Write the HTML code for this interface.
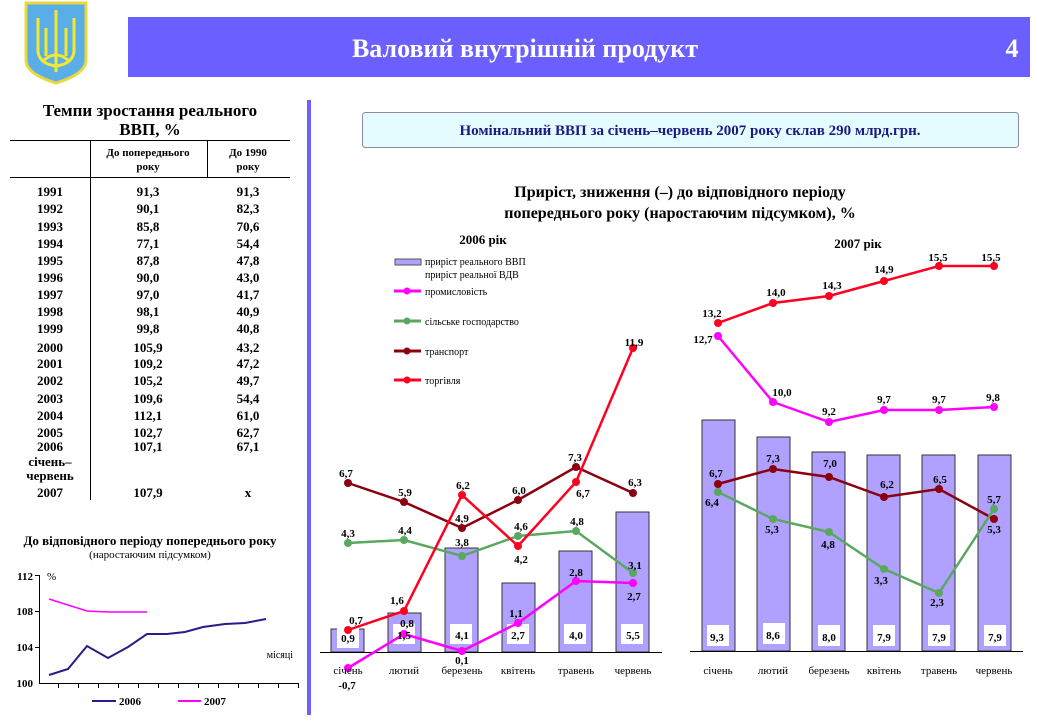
<!DOCTYPE html>
<html><head><meta charset="utf-8"><style>
body{margin:0;background:#fff;}
svg text{font-family:"Liberation Serif",serif;}
</style></head><body>
<svg width="1037" height="720" viewBox="0 0 1037 720" xmlns="http://www.w3.org/2000/svg">
<!-- logo -->
<path d="M26,3 L86,3 L86,60 Q86,74 56,83 Q26,74 26,60 Z" fill="#5aaee8" stroke="#e8d840" stroke-width="3"/>
<g stroke="#f2e830" stroke-width="3" fill="none">
<path d="M56,10 L56,72"/><path d="M38,18 L38,52 Q40,64 56,66 Q72,64 74,52 L74,18"/>
<path d="M46,28 L46,56"/><path d="M66,28 L66,56"/><path d="M44,60 Q56,50 68,60"/>
</g>
<!-- header -->
<rect x="128" y="17" width="902" height="60" fill="#6b60ff"/>
<text x="525" y="57" font-size="26" font-weight="bold" fill="#fff" text-anchor="middle">Валовий внутрішній продукт</text>
<text x="1012" y="57" font-size="26" font-weight="bold" fill="#fff" text-anchor="middle">4</text>
<rect x="307" y="100" width="4" height="615" fill="#6b60ff"/>
<!-- table -->
<g font-weight="bold" text-anchor="middle" fill="#000">
<text x="150" y="116" font-size="17">Темпи зростання реального</text>
<text x="150" y="135" font-size="17">ВВП, %</text>
<text x="148" y="156" font-size="11">До попереднього</text><text x="148" y="170" font-size="11">року</text>
<text x="248" y="156" font-size="11">До 1990</text><text x="248" y="170" font-size="11">року</text>
</g>
<g stroke="#000" stroke-width="1"><line x1="10" y1="140.5" x2="290" y2="140.5"/><line x1="10" y1="177.5" x2="290" y2="177.5"/><line x1="90.5" y1="140" x2="90.5" y2="500"/><line x1="207.5" y1="140" x2="207.5" y2="177"/></g>
<g font-weight="bold" font-size="13" text-anchor="middle">
<text x="50" y="196">1991</text><text x="148" y="196">91,3</text><text x="248" y="196">91,3</text>
<text x="50" y="213">1992</text><text x="148" y="213">90,1</text><text x="248" y="213">82,3</text>
<text x="50" y="231">1993</text><text x="148" y="231">85,8</text><text x="248" y="231">70,6</text>
<text x="50" y="248">1994</text><text x="148" y="248">77,1</text><text x="248" y="248">54,4</text>
<text x="50" y="265">1995</text><text x="148" y="265">87,8</text><text x="248" y="265">47,8</text>
<text x="50" y="282">1996</text><text x="148" y="282">90,0</text><text x="248" y="282">43,0</text>
<text x="50" y="299">1997</text><text x="148" y="299">97,0</text><text x="248" y="299">41,7</text>
<text x="50" y="316">1998</text><text x="148" y="316">98,1</text><text x="248" y="316">40,9</text>
<text x="50" y="333">1999</text><text x="148" y="333">99,8</text><text x="248" y="333">40,8</text>
<text x="50" y="352">2000</text><text x="148" y="352">105,9</text><text x="248" y="352">43,2</text>
<text x="50" y="368">2001</text><text x="148" y="368">109,2</text><text x="248" y="368">47,2</text>
<text x="50" y="385">2002</text><text x="148" y="385">105,2</text><text x="248" y="385">49,7</text>
<text x="50" y="403">2003</text><text x="148" y="403">109,6</text><text x="248" y="403">54,4</text>
<text x="50" y="420">2004</text><text x="148" y="420">112,1</text><text x="248" y="420">61,0</text>
<text x="50" y="437">2005</text><text x="148" y="437">102,7</text><text x="248" y="437">62,7</text>
<text x="50" y="451">2006</text><text x="148" y="451">107,1</text><text x="248" y="451">67,1</text>
<text x="50" y="466">січень–</text><text x="50" y="480">червень</text>
<text x="50" y="497">2007</text><text x="148" y="497">107,9</text><text x="248" y="497">х</text>
</g>
<!-- small chart -->
<text x="150" y="545" font-size="13" font-weight="bold" text-anchor="middle">До відповідного періоду попереднього року</text>
<text x="150" y="558" font-size="11" text-anchor="middle">(наростаючим підсумком)</text>
<g font-size="11" font-weight="bold" text-anchor="end"><text x="33" y="580">112</text><text x="33" y="615">108</text><text x="33" y="651">104</text><text x="33" y="687">100</text></g>
<text x="47" y="580" font-size="11">%</text>
<text x="293" y="658" font-size="10" text-anchor="end">місяці</text>
<g stroke="#000"><line x1="39.5" y1="575" x2="39.5" y2="683"/><line x1="39" y1="683.5" x2="298" y2="683.5"/>
<path d="M35,575.5h5M35,611.5h5M35,647.5h5M58.5,683v5M78.5,683v5M98.5,683v5M118.5,683v5M138.5,683v5M158.5,683v5M178.5,683v5M198.5,683v5M218.5,683v5M238.5,683v5M258.5,683v5M278.5,683v5M298.5,683v5"/></g>
<polyline points="49,675 68,669 87,646 108,658 128,647 147,634 167,634 185,632 203,627 225,624 245,623 266,619" fill="none" stroke="#2a1a8a" stroke-width="2"/>
<polyline points="49,599 68,605 87,611 108,612 128,612 147,612" fill="none" stroke="#ff00ff" stroke-width="1.5"/>
<line x1="92" y1="701" x2="116" y2="701" stroke="#2a1a8a" stroke-width="2"/><text x="119" y="705" font-size="11" font-weight="bold">2006</text>
<line x1="178" y1="701" x2="201" y2="701" stroke="#ff00ff" stroke-width="2"/><text x="204" y="705" font-size="11" font-weight="bold">2007</text>
<!-- info box -->
<rect x="362.5" y="112.5" width="656" height="35" rx="3" fill="#e4fbff" stroke="#8a8aa8"/>
<text x="690" y="135" font-size="15" font-weight="bold" fill="#1a1a80" text-anchor="middle">Номінальний ВВП за січень–червень 2007 року склав 290 млрд.грн.</text>
<text x="680" y="197" font-size="16" font-weight="bold" text-anchor="middle">Приріст, зниження (–) до відповідного періоду</text>
<text x="680" y="218" font-size="16" font-weight="bold" text-anchor="middle">попереднього року (наростаючим підсумком), %</text>
<text x="483" y="244" font-size="13" font-weight="bold" text-anchor="middle">2006 рік</text>
<text x="858" y="248" font-size="13" font-weight="bold" text-anchor="middle">2007 рік</text>
<!-- legend -->
<g font-size="10">
<rect x="395" y="259" width="26" height="6" fill="#b0a0ff" stroke="#555"/>
<text x="425" y="265">приріст реального ВВП</text><text x="425" y="278">приріст реальної ВДВ</text>
<line x1="394" y1="291" x2="421" y2="291" stroke="#ff00ff" stroke-width="3"/><circle cx="407" cy="291" r="3.5" fill="#ff00ff"/><text x="425" y="295">промисловість</text>
<line x1="394" y1="321" x2="421" y2="321" stroke="#5aa860" stroke-width="3"/><circle cx="407" cy="321" r="3.5" fill="#5aa860"/><text x="425" y="325">сільське господарство</text>
<line x1="394" y1="351" x2="421" y2="351" stroke="#8b0010" stroke-width="3"/><circle cx="407" cy="351" r="3.5" fill="#8b0010"/><text x="425" y="355">транспорт</text>
<line x1="394" y1="380" x2="421" y2="380" stroke="#ff0020" stroke-width="3"/><circle cx="407" cy="380" r="3.5" fill="#ff0020"/><text x="425" y="384">торгівля</text>
</g>
<!-- 2006 bars -->
<g fill="#b0a0ff" stroke="#333" stroke-width="1">
<rect x="331" y="629" width="33" height="23"/><rect x="388" y="613" width="33" height="39"/><rect x="445" y="548" width="33" height="104"/>
<rect x="502" y="583" width="33" height="69"/><rect x="559" y="551" width="33" height="101"/><rect x="616" y="512" width="33" height="140"/>
</g>
<line x1="320" y1="652.5" x2="662" y2="652.5" stroke="#000"/>
<g fill="#fff"><rect x="337" y="628" width="22" height="20"/><rect x="393" y="624" width="22" height="20"/><rect x="450" y="624" width="22" height="20"/><rect x="507" y="624" width="22" height="20"/><rect x="564" y="624" width="22" height="20"/><rect x="621" y="624" width="22" height="20"/></g>
<g fill="none" stroke-width="2.5">
<polyline points="348,483 404,502 462,528 518,500 576,467 633,493" stroke="#8b0010"/>
<polyline points="348,543 404,540 462,556 518,536 576,531 633,573" stroke="#5aa860"/>
<polyline points="348,630 404,611 462,495 518,546 576,482 633,348" stroke="#ff0020"/>
<polyline points="348,668 404,634 462,651 518,623 576,581 633,583" stroke="#ff00ff"/>
</g>
<g fill="#8b0010"><circle cx="348" cy="483" r="4"/><circle cx="404" cy="502" r="4"/><circle cx="462" cy="528" r="4"/><circle cx="518" cy="500" r="4"/><circle cx="576" cy="467" r="4"/><circle cx="633" cy="493" r="4"/></g>
<g fill="#5aa860"><circle cx="348" cy="543" r="4"/><circle cx="404" cy="540" r="4"/><circle cx="462" cy="556" r="4"/><circle cx="518" cy="536" r="4"/><circle cx="576" cy="531" r="4"/><circle cx="633" cy="573" r="4"/></g>
<g fill="#ff0020"><circle cx="348" cy="630" r="4"/><circle cx="404" cy="611" r="4"/><circle cx="462" cy="495" r="4"/><circle cx="518" cy="546" r="4"/><circle cx="576" cy="482" r="4"/><circle cx="633" cy="348" r="4"/></g>
<g fill="#ff00ff"><circle cx="348" cy="668" r="4"/><circle cx="404" cy="634" r="4"/><circle cx="462" cy="651" r="4"/><circle cx="518" cy="623" r="4"/><circle cx="576" cy="581" r="4"/><circle cx="633" cy="583" r="4"/></g>
<g font-size="11" font-weight="bold" text-anchor="middle">
<text x="348" y="642">0,9</text><text x="404" y="639">1,5</text><text x="462" y="639">4,1</text><text x="518" y="639">2,7</text><text x="576" y="639">4,0</text><text x="633" y="639">5,5</text>
<text x="346" y="477">6,7</text><text x="405" y="496">5,9</text><text x="462" y="522">4,9</text><text x="519" y="494">6,0</text><text x="575" y="461">7,3</text><text x="635" y="486">6,3</text>
<text x="348" y="537">4,3</text><text x="405" y="534">4,4</text><text x="462" y="546">3,8</text><text x="521" y="530">4,6</text><text x="577" y="525">4,8</text><text x="635" y="569">3,1</text>
<text x="356" y="624">0,7</text><text x="397" y="604">1,6</text><text x="463" y="489">6,2</text><text x="521" y="563">4,2</text><text x="583" y="497">6,7</text><text x="634" y="346">11,9</text>
<text x="347" y="689">-0,7</text><text x="407" y="627">0,8</text><text x="462" y="664">0,1</text><text x="516" y="617">1,1</text><text x="576" y="576">2,8</text><text x="634" y="600">2,7</text>
</g>
<g font-size="11" text-anchor="middle"><text x="348" y="674">січень</text><text x="404" y="674">лютий</text><text x="462" y="674">березень</text><text x="518" y="674">квітень</text><text x="576" y="674">травень</text><text x="633" y="674">червень</text></g>
<!-- 2007 bars -->
<g fill="#b0a0ff" stroke="#333" stroke-width="1">
<rect x="702" y="420" width="33" height="231"/><rect x="757" y="437" width="33" height="214"/><rect x="812" y="452" width="33" height="199"/>
<rect x="867" y="455" width="33" height="196"/><rect x="922" y="455" width="33" height="196"/><rect x="978" y="455" width="33" height="196"/>
</g>
<line x1="690" y1="651.5" x2="1023" y2="651.5" stroke="#000"/>
<g fill="#fff"><rect x="707" y="625" width="22" height="21"/><rect x="763" y="623" width="22" height="21"/><rect x="818" y="625" width="22" height="21"/><rect x="873" y="625" width="22" height="21"/><rect x="928" y="625" width="22" height="21"/><rect x="984" y="625" width="22" height="21"/></g>
<g fill="none" stroke-width="2.5">
<polyline points="718,323 773,303 829,296 884,281 939,266 994,266" stroke="#ff0020"/>
<polyline points="718,336 773,402 829,422 884,410 939,410 994,407" stroke="#ff00ff"/>
<polyline points="718,484 773,469 829,477 884,497 939,489 994,519" stroke="#8b0010"/>
<polyline points="718,492 773,519 829,532 884,569 939,593 994,509" stroke="#5aa860"/>
</g>
<g fill="#ff0020"><circle cx="718" cy="323" r="4"/><circle cx="773" cy="303" r="4"/><circle cx="829" cy="296" r="4"/><circle cx="884" cy="281" r="4"/><circle cx="939" cy="266" r="4"/><circle cx="994" cy="266" r="4"/></g>
<g fill="#ff00ff"><circle cx="718" cy="336" r="4"/><circle cx="773" cy="402" r="4"/><circle cx="829" cy="422" r="4"/><circle cx="884" cy="410" r="4"/><circle cx="939" cy="410" r="4"/><circle cx="994" cy="407" r="4"/></g>
<g fill="#8b0010"><circle cx="718" cy="484" r="4"/><circle cx="773" cy="469" r="4"/><circle cx="829" cy="477" r="4"/><circle cx="884" cy="497" r="4"/><circle cx="939" cy="489" r="4"/><circle cx="994" cy="519" r="4"/></g>
<g fill="#5aa860"><circle cx="718" cy="492" r="4"/><circle cx="773" cy="519" r="4"/><circle cx="829" cy="532" r="4"/><circle cx="884" cy="569" r="4"/><circle cx="939" cy="593" r="4"/><circle cx="994" cy="509" r="4"/></g>
<g font-size="11" font-weight="bold" text-anchor="middle">
<text x="712" y="317">13,2</text><text x="776" y="296">14,0</text><text x="832" y="289">14,3</text><text x="884" y="273">14,9</text><text x="938" y="261">15,5</text><text x="991" y="261">15,5</text>
<text x="703" y="343">12,7</text><text x="782" y="396">10,0</text><text x="829" y="415">9,2</text><text x="884" y="403">9,7</text><text x="939" y="403">9,7</text><text x="993" y="401">9,8</text>
<text x="716" y="477">6,7</text><text x="773" y="462">7,3</text><text x="830" y="467">7,0</text><text x="887" y="488">6,2</text><text x="940" y="483">6,5</text>
<text x="712" y="506">6,4</text><text x="772" y="533">5,3</text><text x="828" y="548">4,8</text><text x="881" y="584">3,3</text><text x="937" y="606">2,3</text><text x="994" y="503">5,7</text><text x="994" y="533">5,3</text>
<text x="717" y="641">9,3</text><text x="773" y="639">8,6</text><text x="829" y="641">8,0</text><text x="884" y="641">7,9</text><text x="939" y="641">7,9</text><text x="995" y="641">7,9</text>
</g>
<g font-size="11" text-anchor="middle"><text x="718" y="674">січень</text><text x="773" y="674">лютий</text><text x="829" y="674">березень</text><text x="884" y="674">квітень</text><text x="939" y="674">травень</text><text x="994" y="674">червень</text></g>
</svg>
</body></html>
